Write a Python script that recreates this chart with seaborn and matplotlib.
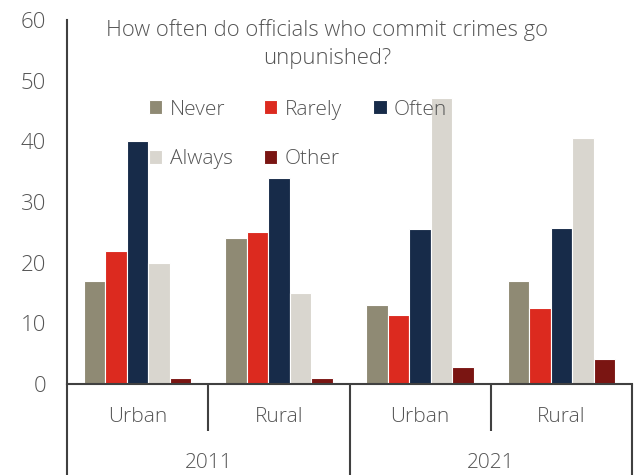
import matplotlib
matplotlib.use("Agg")
import matplotlib.pyplot as plt
import matplotlib.transforms as mtransforms
import seaborn as sns
import pandas as pd

# ---- data ----
years = ["2011", "2011", "2021", "2021"]
areas = ["Urban", "Rural", "Urban", "Rural"]
responses = ["Never", "Rarely", "Often", "Always", "Other"]
never = [17, 24, 13, 17]
rarely = [22, 25, 11.4, 12.6]
often = [40, 34, 25.5, 25.7]
always = [20, 15, 47.2, 40.5]
other = [1, 1, 2.8, 4.2]
title = "How often do officials who commit crimes go\nunpunished?"

colors = ["#8F8A74", "#DC2A1F", "#172B49", "#D9D6CF", "#7A1512"]

series = dict(zip(responses, [never, rarely, often, always, other]))
groups = [f"{y} {a}" for y, a in zip(years, areas)]
rows = []
for r in responses:
    for g, v in zip(groups, series[r]):
        rows.append({"group": g, "response": r, "value": v})
df = pd.DataFrame(rows)

sns.set_style("white")
plt.rcParams["font.family"] = ["Open Sans", "DejaVu Sans"]
text_color = "#555555"
spine_color = "#404040"
fw = "light"
fs = 15

fig = plt.figure(figsize=(6.38, 4.75), dpi=100)
ax = fig.add_axes([67 / 638, 1 - 384 / 475, 565 / 638, 364 / 475])

sns.barplot(data=df, x="group", y="value", hue="response", order=groups,
            hue_order=responses, palette=colors, width=0.76, saturation=1,
            edgecolor="white", linewidth=0.8, ax=ax)

ax.set_ylim(0, 60)
ax.set_xlim(-0.5, len(groups) - 0.5)
ax.set_yticks(range(0, 61, 10))
ax.tick_params(axis="y", length=6, width=1.2, color=spine_color,
               labelsize=16, labelcolor=text_color, direction="out", pad=9)
for t in ax.get_yticklabels():
    t.set_fontweight(fw)
ax.set_xticks([])
ax.set_xlabel("")
ax.set_ylabel("")
for s in ["top", "right"]:
    ax.spines[s].set_visible(False)
for s in ["left", "bottom"]:
    ax.spines[s].set_color(spine_color)
    ax.spines[s].set_linewidth(1.5)

trans = mtransforms.blended_transform_factory(ax.transData, ax.transAxes)
# separators
for i in range(len(groups) + 1):
    xpos = i - 0.5
    long_line = (i % 2 == 0)
    ybot = -0.25 if long_line else -0.128
    ax.plot([xpos, xpos], [0, ybot], color=spine_color, lw=1.5,
            transform=trans, clip_on=False, solid_capstyle="butt")
# labels
for i, a in enumerate(areas):
    ax.text(i, -0.09, a, transform=trans, ha="center", va="center",
            fontsize=fs, color=text_color, fontweight=fw)
for j in range(0, len(groups), 2):
    ax.text(j + 0.5, -0.217, years[j], transform=trans, ha="center",
            va="center", fontsize=fs, color=text_color, fontweight=fw)

# title
ax.text((327 - 67) / 565, (384 - 44) / 364, title, transform=ax.transAxes,
        ha="center", va="center", fontsize=15.8, color=text_color,
        linespacing=1.45, fontweight=fw)

# legend (row-major order: Never, Rarely, Often / Always, Other)
handles, labels = ax.get_legend_handles_labels()
hmap = dict(zip(labels, handles))
order = ["Never", "Always", "Rarely", "Other", "Often"]
leg = ax.legend([hmap[k] for k in order], order, ncol=3, frameon=False,
                loc="upper left",
                bbox_to_anchor=((130 - 67) / 565, (384 - 81) / 364),
                prop={"size": fs, "weight": fw}, handlelength=0.65,
                handleheight=0.65, handletextpad=0.35, columnspacing=1.5,
                labelspacing=1.42)
for t in leg.get_texts():
    t.set_color(text_color)

fig.savefig("out.png", dpi=100)
